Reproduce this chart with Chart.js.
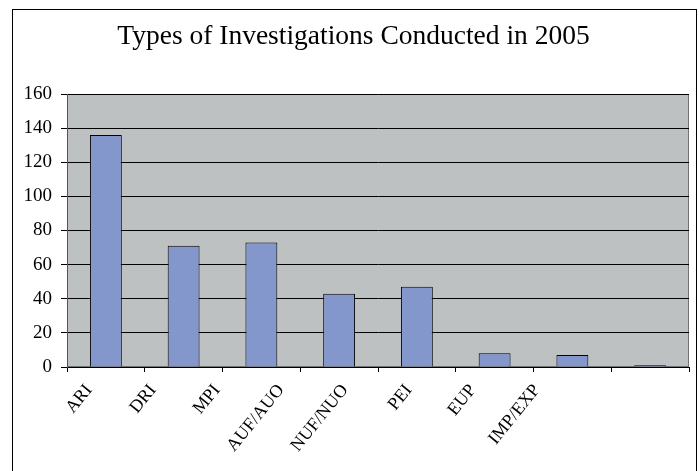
<!DOCTYPE html>
<html>
<head>
<meta charset="utf-8">
<script src="https://cdn.jsdelivr.net/npm/chart.js@4"></script>
<style>
  html, body { margin: 0; padding: 0; background: #fff; }
  #wrap { position: relative; width: 699px; height: 471px; }
  #frame { position: absolute; left: 12px; top: 9px; width: 685px; height: 470px; border: 1px solid #000; box-sizing: border-box; pointer-events: none; }
  canvas { position: absolute; left: 0; top: 0; }
</style>
</head>
<body>
<div id="wrap">
  <canvas id="chart" width="699" height="471"></canvas>
  <div id="frame"></div>
</div>
<script>
const categories = ["ARI", "DRI", "MPI", "AUF/AUO", "NUF/NUO", "PEI", "EUP", "IMP/EXP"];
const investigations = [136, 71, 73, 43, 47, 8, 7, 1];
const yTicks = [0, 20, 40, 60, 80, 100, 120, 140, 160];

const serif = "'Liberation Serif', 'Times New Roman', serif";

// gray plot background and its outline
const plotBackground = {
  id: "plotBackground",
  beforeDraw(chart) {
    const { ctx, chartArea: a } = chart;
    ctx.save();
    ctx.fillStyle = "#bdc1c2";
    ctx.fillRect(a.left, a.top, a.right - a.left, a.bottom - a.top);
    ctx.strokeStyle = "#6f7373";
    ctx.lineWidth = 1;
    ctx.strokeRect(a.left + 0.5, a.top + 0.5, a.right - a.left - 1, a.bottom - a.top - 1);
    ctx.restore();
  }
};

// rotated category labels, packed a little tighter than the bars like the original
const slantedLabels = {
  id: "slantedLabels",
  afterDraw(chart) {
    const { ctx, chartArea: a } = chart;
    const x = chart.scales.x;
    ctx.save();
    ctx.fillStyle = "#000";
    ctx.font = "18px " + serif;
    ctx.textAlign = "right";
    ctx.textBaseline = "middle";
    chart.data.labels.forEach((lab, i) => {
      const px = a.left + (x.getPixelForValue(i) - a.left) * 0.823 - 10;
      const py = a.bottom + 20;
      ctx.save();
      ctx.translate(px, py);
      ctx.rotate(-51 * Math.PI / 180);
      ctx.fillText(lab, 0, 0);
      ctx.restore();
    });
    ctx.restore();
  }
};

new Chart(document.getElementById("chart"), {
  type: "bar",
  data: {
    labels: categories,
    datasets: [{
      label: "Investigations",
      data: investigations,
      backgroundColor: "#8497cc",
      borderColor: "#000",
      borderWidth: 1,
      barPercentage: 0.41,
      categoryPercentage: 1
    }]
  },
  options: {
    responsive: false,
    animation: false,
    layout: { padding: { top: 0, right: 10, left: 18, bottom: 0 } },
    plugins: {
      legend: { display: false },
      tooltip: { enabled: false },
      title: {
        display: true,
        text: "Types of Investigations Conducted in 2005",
        color: "#000",
        font: { family: serif, size: 27.5, weight: "normal", lineHeight: 1.2 },
        padding: { top: 20, bottom: 41 }
      }
    },
    scales: {
      x: {
        grid: { display: true, drawOnChartArea: false, color: "#000", tickLength: 5, offset: true },
        border: { color: "#000", width: 1 },
        ticks: { display: false },
        afterFit(scale) { scale.height = 104; }
      },
      y: {
        min: 0,
        max: 160,
        afterBuildTicks(scale) { scale.ticks = yTicks.map(v => ({ value: v })); },
        grid: { color: "#000", lineWidth: 1, tickLength: 6 },
        border: { color: "#555", width: 1 },
        ticks: {
          color: "#000",
          font: { family: serif, size: 19 },
          padding: 9
        },
        afterFit(scale) { scale.width = 49; }
      }
    }
  },
  plugins: [plotBackground, slantedLabels]
});
</script>
</body>
</html>
